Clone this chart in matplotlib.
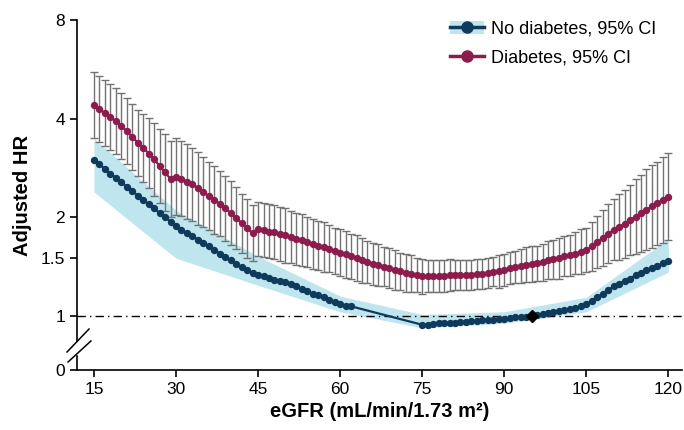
import matplotlib
matplotlib.use("Agg")
import matplotlib.pyplot as plt
from matplotlib.lines import Line2D
from matplotlib.patches import Patch, Rectangle

plt.rcParams['font.family'] = ['Liberation Sans', 'DejaVu Sans']

# No diabetes: eGFR points (gap 63-74 is only joined by the line)
egfr_nd = list(range(15, 63)) + list(range(75, 121))
hr_nd = [2.99, 2.90, 2.81, 2.72, 2.64, 2.56, 2.48, 2.41, 2.33, 2.26,
         2.19, 2.13, 2.06, 2.00, 1.94, 1.88, 1.83, 1.79, 1.75, 1.71,
         1.67, 1.63, 1.59, 1.55, 1.51, 1.48, 1.44, 1.41, 1.38, 1.35,
         1.33, 1.32, 1.31, 1.29, 1.28, 1.27, 1.25, 1.23, 1.21, 1.19,
         1.17, 1.155, 1.14, 1.12, 1.10, 1.09, 1.07, 1.07,
         0.94, 0.94, 0.945, 0.95, 0.95, 0.955, 0.955, 0.96, 0.96, 0.965,
         0.965, 0.97, 0.975, 0.975, 0.98, 0.98, 0.985, 0.99, 0.99, 0.995,
         1.00, 1.005, 1.015, 1.02, 1.03, 1.035, 1.04, 1.05, 1.06, 1.07,
         1.09, 1.11, 1.14, 1.17, 1.20, 1.23, 1.25, 1.28, 1.30, 1.33,
         1.35, 1.38, 1.40, 1.42, 1.45, 1.47]

# 95% CI band for no diabetes
band_x = [15, 30, 45, 60, 75, 90, 105, 120]
band_lo = [2.39, 1.50, 1.24, 1.03, 0.92, 0.95, 1.03, 1.36]
band_hi = [3.48, 2.10, 1.52, 1.15, 1.01, 1.03, 1.14, 1.72]

# Diabetes
egfr_d = list(range(15, 121))
hr_d = [4.41, 4.28, 4.16, 4.04, 3.93, 3.80, 3.66, 3.52, 3.38, 3.26,
        3.13, 3.01, 2.87, 2.74, 2.62, 2.66, 2.62, 2.57, 2.52, 2.45,
        2.39, 2.32, 2.26, 2.20, 2.13, 2.06, 1.99, 1.92, 1.85, 1.79,
        1.84, 1.83, 1.81, 1.80, 1.78, 1.76, 1.74, 1.72, 1.70, 1.68,
        1.66, 1.64, 1.62, 1.60, 1.58, 1.56, 1.54, 1.52, 1.50, 1.48,
        1.46, 1.44, 1.43, 1.41, 1.40, 1.38, 1.37, 1.35, 1.34, 1.33,
        1.32, 1.32, 1.32, 1.32, 1.32, 1.33, 1.33, 1.33, 1.33, 1.33,
        1.34, 1.34, 1.35, 1.36, 1.37, 1.38, 1.40, 1.41, 1.42, 1.43,
        1.44, 1.45, 1.46, 1.48, 1.49, 1.50, 1.52, 1.53, 1.55, 1.57,
        1.59, 1.63, 1.68, 1.73, 1.78, 1.83, 1.87, 1.91, 1.96, 2.01,
        2.06, 2.11, 2.16, 2.21, 2.26, 2.31]
hi_d = [5.56, 5.39, 5.24, 5.09, 4.95, 4.79, 4.61, 4.44, 4.26, 4.14,
        4.01, 3.88, 3.73, 3.59, 3.43, 3.48, 3.41, 3.34, 3.25, 3.16,
        3.06, 2.95, 2.87, 2.77, 2.68, 2.58, 2.47, 2.36, 2.28, 2.18,
        2.23, 2.21, 2.19, 2.18, 2.15, 2.13, 2.09, 2.06, 2.04, 2.00,
        1.98, 1.95, 1.93, 1.89, 1.86, 1.84, 1.82, 1.78, 1.76, 1.73,
        1.69, 1.67, 1.66, 1.62, 1.61, 1.59, 1.56, 1.54, 1.53, 1.50,
        1.49, 1.48, 1.48, 1.48, 1.48, 1.49, 1.48, 1.48, 1.48, 1.48,
        1.49, 1.49, 1.50, 1.51, 1.53, 1.55, 1.57, 1.58, 1.60, 1.62,
        1.63, 1.64, 1.66, 1.69, 1.71, 1.73, 1.75, 1.77, 1.80, 1.84,
        1.86, 1.94, 2.02, 2.11, 2.19, 2.27, 2.36, 2.43, 2.51, 2.61,
        2.70, 2.81, 2.89, 2.96, 3.05, 3.14]
lo_d = [3.50, 3.40, 3.30, 3.21, 3.12, 3.02, 2.90, 2.79, 2.68, 2.57,
        2.45, 2.33, 2.21, 2.09, 2.00, 2.03, 2.02, 1.98, 1.95, 1.90,
        1.87, 1.83, 1.78, 1.75, 1.69, 1.65, 1.60, 1.56, 1.50, 1.47,
        1.52, 1.51, 1.50, 1.49, 1.47, 1.45, 1.45, 1.43, 1.42, 1.41,
        1.39, 1.38, 1.36, 1.36, 1.34, 1.32, 1.31, 1.30, 1.28, 1.26,
        1.26, 1.24, 1.23, 1.23, 1.22, 1.20, 1.20, 1.18, 1.18, 1.18,
        1.17, 1.18, 1.18, 1.18, 1.18, 1.19, 1.20, 1.20, 1.20, 1.20,
        1.21, 1.21, 1.22, 1.23, 1.22, 1.23, 1.25, 1.26, 1.26, 1.27,
        1.27, 1.28, 1.28, 1.30, 1.30, 1.30, 1.32, 1.32, 1.34, 1.34,
        1.36, 1.37, 1.40, 1.42, 1.45, 1.48, 1.48, 1.50, 1.53, 1.55,
        1.57, 1.59, 1.61, 1.65, 1.67, 1.70]

ref_egfr = 95
ref_hr = 1.0

xticks = [15, 30, 45, 60, 75, 90, 105, 120]
y_bottom = 0.684
yticks = [y_bottom, 1, 1.5, 2, 4, 8]
ytick_labels = ['0', '1', '1.5', '2', '4', '8']

navy = '#0f3a5c'
maroon = '#8c1c4c'
band_col = '#bfe6ef'
bar_col = '#727272'

fig = plt.figure(figsize=(6.84, 4.30), dpi=100)
ax = fig.add_axes([77 / 684, 60 / 430, 605 / 684, 350 / 430])

ax.fill_between(band_x, band_lo, band_hi, color=band_col, lw=0, zorder=1)
ax.axhline(1, color='black', lw=1, ls=(0, (6, 3, 1, 3)), zorder=2)

err_lo = [h - l for h, l in zip(hr_d, lo_d)]
err_hi = [u - h for h, u in zip(hr_d, hi_d)]
ax.errorbar(egfr_d, hr_d, yerr=[err_lo, err_hi], fmt='none', ecolor=bar_col,
            elinewidth=1, capsize=2.6, capthick=1, zorder=3)

ax.plot(egfr_nd, hr_nd, color=navy, lw=1.6, marker='o', ms=5.3, mew=0, zorder=4)
ax.plot(egfr_d, hr_d, color=maroon, lw=1.6, marker='o', ms=5.3, mew=0, zorder=5)
ax.plot([ref_egfr], [ref_hr], marker='D', color='black', ms=6, zorder=6)

ax.set_yscale('log')
ax.set_ylim(y_bottom, 8)
ax.set_xlim(11.9, 122.5)
ax.set_yticks(yticks)
ax.set_yticklabels(ytick_labels)
ax.minorticks_off()
ax.set_xticks(xticks)
ax.tick_params(axis='both', labelsize=12.5, length=5, width=1.2, direction='out')

for s in ['top', 'right']:
    ax.spines[s].set_visible(False)
for s in ['left', 'bottom']:
    ax.spines[s].set_linewidth(1.2)

ax.set_xlabel('eGFR (mL/min/1.73 m²)', fontsize=14.5, fontweight='bold', labelpad=4)
ax.set_ylabel('Adjusted HR', fontsize=14.5, fontweight='bold', labelpad=6)

# axis break on the y-axis
ax.add_patch(Rectangle((-0.01, 0.047), 0.02, 0.034, transform=ax.transAxes,
                       color='white', clip_on=False, zorder=10))
ax.plot([-0.0165, 0.0198], [0.0514, 0.117], color='black', lw=1.1,
        transform=ax.transAxes, clip_on=False, zorder=11)
ax.plot([-0.0148, 0.023], [0.0229, 0.0829], color='black', lw=1.1,
        transform=ax.transAxes, clip_on=False, zorder=11)

h1 = (Patch(facecolor=band_col, edgecolor='none'),
      Line2D([], [], color=navy, lw=2.5, marker='o', ms=8))
h2 = Line2D([], [], color=maroon, lw=2.5, marker='o', ms=8)
ax.legend([h1, h2], ['No diabetes, 95% CI', 'Diabetes, 95% CI'],
          loc='upper right', bbox_to_anchor=(0.985, 1.045), frameon=False,
          fontsize=13, handlelength=1.9, handletextpad=0.4, labelspacing=0.65)

fig.savefig('out.png', dpi=100)
